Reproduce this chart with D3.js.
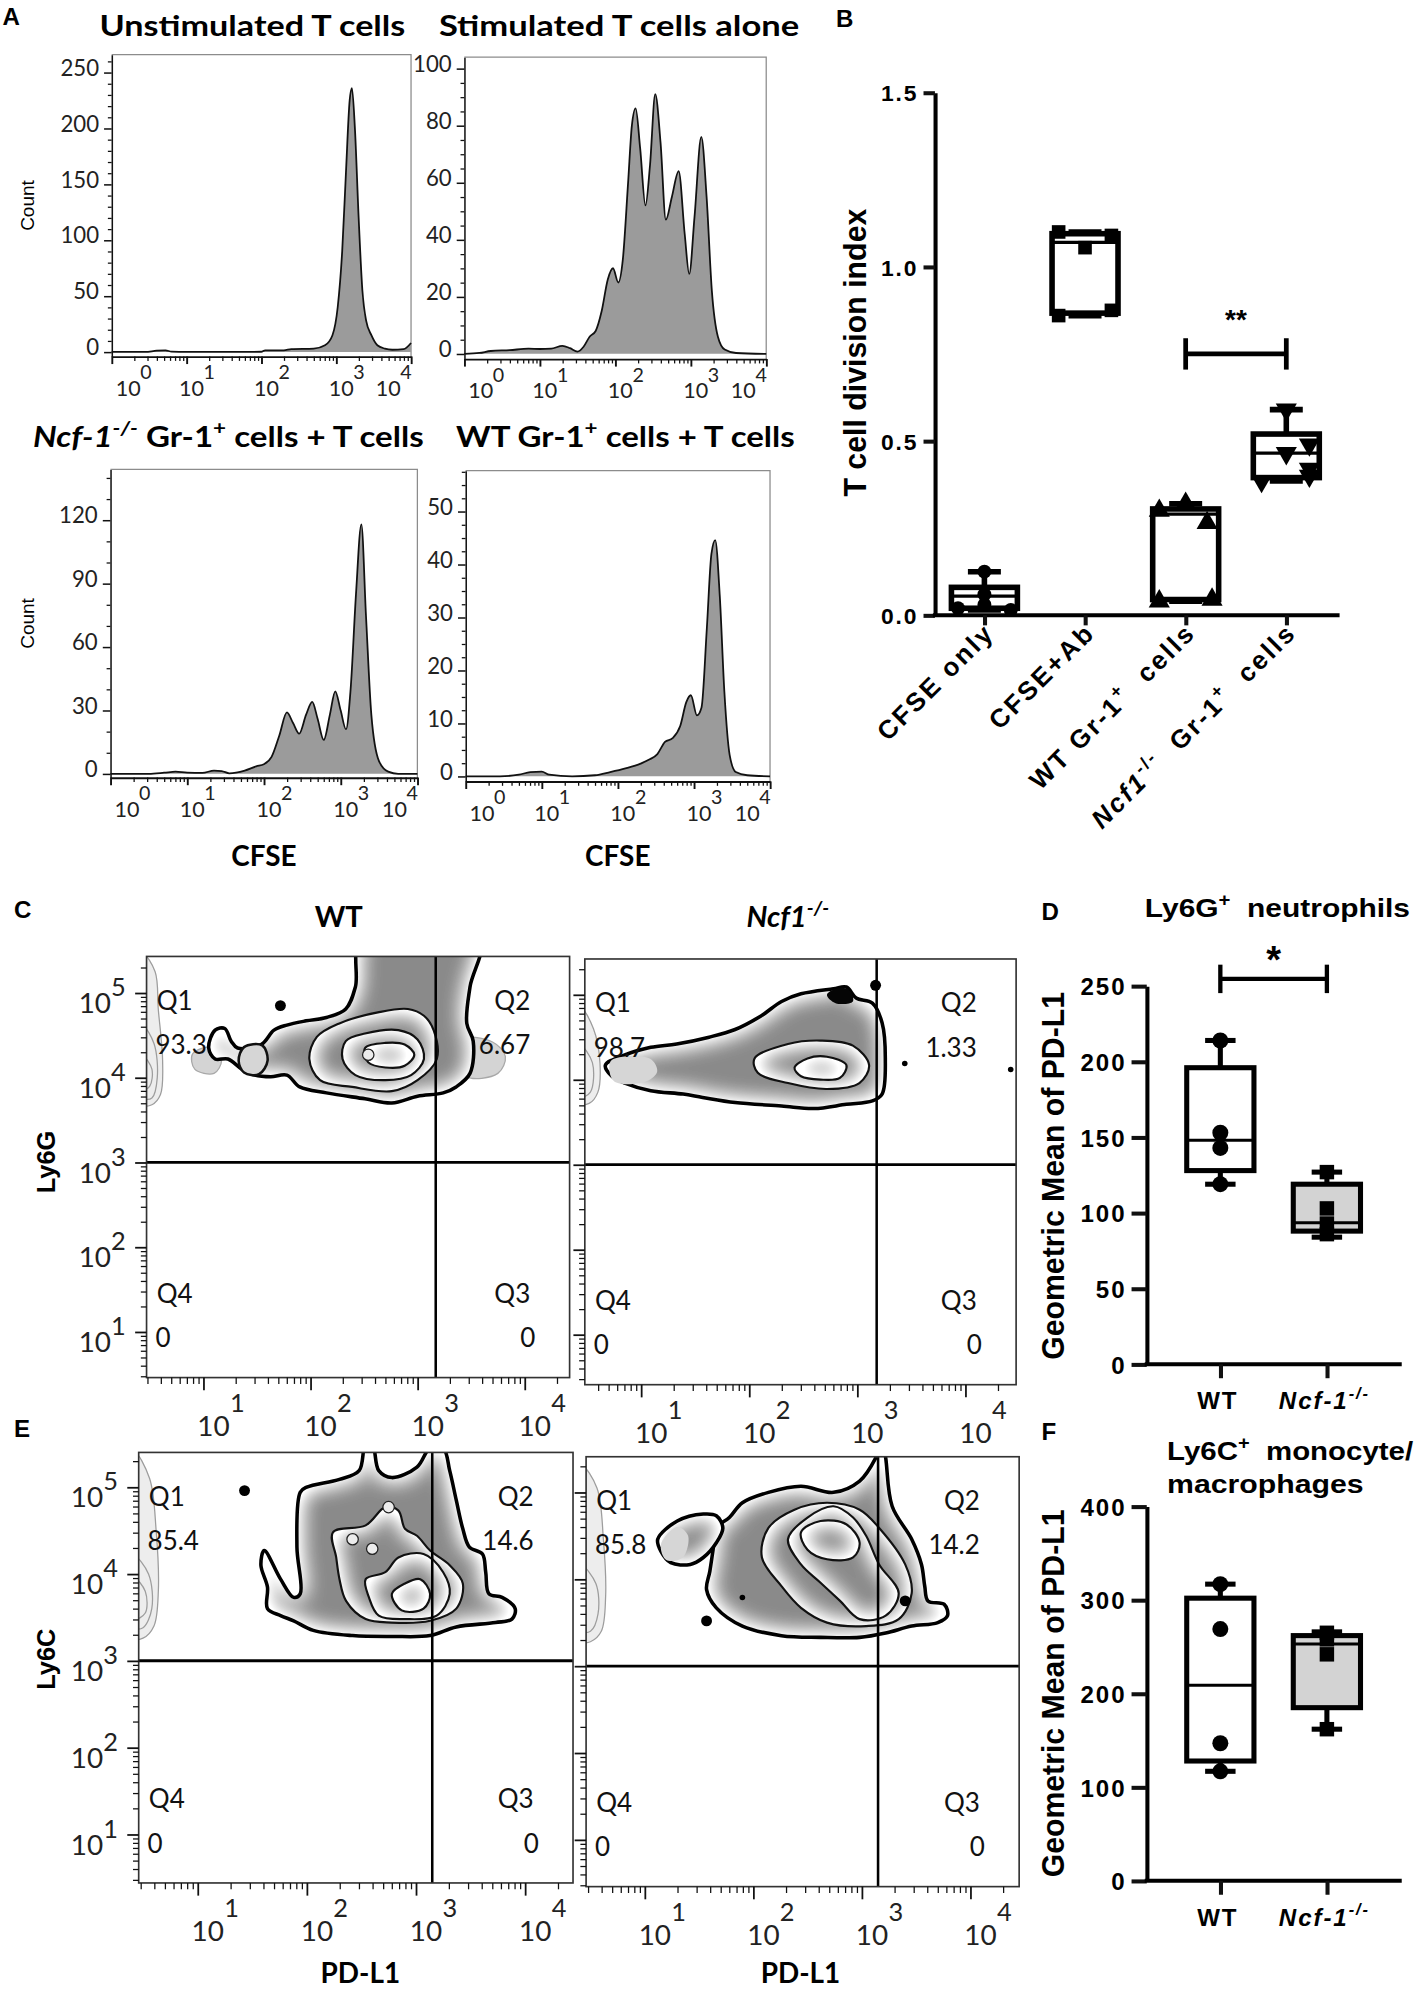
<!DOCTYPE html>
<html>
<head>
<meta charset="utf-8">
<title>CFSE proliferation and PD-L1 expression</title>
<script src="https://cdnjs.cloudflare.com/ajax/libs/d3/7.8.5/d3.min.js"></script>
<style>
  html, body { margin: 0; padding: 0; background: #fff; }
  svg { display: block; }
  text { white-space: pre; }
</style>
</head>
<body>
<svg id="figure"></svg>
<script>
// ---------- values ----------

// A: CFSE histograms, points are [log10 CFSE, count]
const unstimHist = [[0,0],[0.45,0],[0.6,1.2],[0.72,1.5],[0.8,0.3],[1.0,0],[1.5,0],[2.0,0.2],[2.05,1.5],[2.3,1.5],[2.4,2.5],[2.7,3],[2.85,6],[2.95,15],[3.02,40],[3.08,90],[3.13,160],[3.18,225],[3.21,236],[3.25,200],[3.3,120],[3.35,55],[3.4,28],[3.47,15],[3.55,6],[3.65,3],[3.75,2],[3.9,2.5],[4.0,8]];
const stimHist = [[0,0],[0.2,0.3],[0.35,1],[0.6,1.3],[0.85,1.8],[1.0,1.7],[1.15,1.8],[1.3,2.8],[1.4,2],[1.5,0.8],[1.58,2.5],[1.66,6],[1.74,8],[1.82,15],[1.9,26],[1.97,30],[2.04,25],[2.1,33],[2.17,60],[2.22,80],[2.27,86],[2.33,72],[2.4,52],[2.46,66],[2.53,91],[2.6,74],[2.67,47],[2.75,55],[2.84,64],[2.92,42],[2.98,28],[3.05,48],[3.14,76],[3.21,55],[3.28,22],[3.36,6],[3.45,1.5],[3.6,0.3],[4,0]];
const ncfHist = [[0,0],[0.5,0],[0.7,0.5],[0.85,1],[1.0,0.5],[1.2,0.4],[1.35,1.5],[1.45,1.3],[1.55,0.2],[1.75,1.5],[1.9,3.5],[2.0,4.5],[2.1,8],[2.2,18],[2.3,29],[2.38,24],[2.46,19],[2.55,28],[2.63,34],[2.7,26],[2.78,16],[2.86,28],[2.93,39],[3.0,30],[3.07,21],[3.13,40],[3.2,85],[3.27,118],[3.33,75],[3.4,28],[3.5,6],[3.62,1],[3.75,0],[4,0]];
const wtHist = [[0,0],[0.45,0],[0.7,0.3],[0.85,0.8],[1.0,0.9],[1.1,0.3],[1.4,0],[1.7,0.2],[1.9,0.8],[2.1,1.5],[2.3,2.4],[2.42,3.2],[2.52,4.2],[2.62,6.5],[2.72,7.2],[2.82,9.5],[2.9,14],[2.96,15.3],[3.04,11.5],[3.1,13],[3.17,28],[3.23,42],[3.28,44.6],[3.34,34],[3.4,16],[3.47,4],[3.55,0.8],[3.7,0.2],[4,0]];
const histDecades = [0, 1, 2, 3, 4];
const unstimTicks = [0, 50, 100, 150, 200, 250];
const stimTicks = [0, 20, 40, 60, 80, 100];
const ncfTicks = [0, 30, 60, 90, 120];
const wtTicks = [0, 10, 20, 30, 40, 50];
const histTitles = [
  [{t: 'Unstimulated T cells'}],
  [{t: 'Stimulated T cells alone'}],
  [{t: 'Ncf-1', i: 1}, {t: '-/-', i: 1, sup: 1}, {t: ' Gr-1'}, {t: '+', sup: 1}, {t: ' cells + T cells'}],
  [{t: 'WT Gr-1'}, {t: '+', sup: 1}, {t: ' cells + T cells'}]
];

// B: T cell division index
const bCats = ['CFSE only', 'CFSE+Ab', 'WT Gr-1+ cells', 'Ncf1-/- Gr-1+ cells'];
const bCatLabels = [
  [{t: 'CFSE only'}],
  [{t: 'CFSE+Ab'}],
  [{t: 'WT Gr-1'}, {t: '+', sup: 1}, {t: '  cells'}],
  [{t: 'Ncf1', i: 1}, {t: '-/-', sup: 1}, {t: '  Gr-1'}, {t: '+', sup: 1}, {t: '  cells'}]
];
const bStats = [[0.015, 0.02, 0.055, 0.08, 0.125], [0.86, 0.867, 1.07, 1.095, 1.10], [0.04, 0.045, 0.29, 0.305, 0.32], [0.385, 0.395, 0.465, 0.52, 0.59]];
const bPoints = [[0.125, 0.06, 0.03, 0.02, 0.015], [1.10, 1.09, 1.055, 0.875, 0.86], [0.32, 0.30, 0.265, 0.045, 0.04], [0.59, 0.49, 0.465, 0.42, 0.40, 0.385]];
const bJitter = [[0, 0, 0, -0.8, 0.8], [-0.8, 0.8, 0, 0.8, -0.8], [0, -0.8, 0.65, 0.8, -0.8], [0, 0.7, 0, 0.7, 0.7, -0.75]];
const bSymbols = ['circle', 'square', 'up', 'down'];
const bTicks = [0, 0.5, 1.0, 1.5];
const bSig = {a: 2, b: 3, value: 0.75, cap: 0.045, label: '**', labelValue: 0.867};

// D and F: geometric mean of PD-L1
const gmCats = ['WT', 'Ncf-1-/-'];
const gmCatLabels = [[{t: 'WT'}], [{t: 'Ncf-1', i: 1}, {t: '-/-', i: 1, sup: 1}]];
const dStats = [[119, 128, 148, 196, 214], [84, 88, 93.5, 119, 127]];
const dPoints = [[214, 153, 143, 119], [127, 103, 93, 86]];
const dTicks = [0, 50, 100, 150, 200, 250];
const dSig = {a: 0, b: 1, value: 254.7, cap: 9.4, label: '*', labelValue: 273};
const fStats = [[117, 128, 209, 302, 317], [162, 185, 253, 262, 266]];
const fPoints = [[317, 269, 147, 117], [265, 258, 242, 162]];
const fTicks = [0, 100, 200, 300, 400];
const gmSymbols = ['circle', 'square'];

// C and E: contour plots, points are [log10 PD-L1, log10 Ly6G / Ly6C]
const quadValues = [['93.3', '6.67', '0', '0'], ['98.7', '1.33', '0', '0'], ['85.4', '14.6', '0', '0'], ['85.8', '14.2', '0', '0']];
const gates = [[3.17, 3.0], [3.18, 3.0], [3.15, 3.0], [3.15, 3.0]];
const flowDecadesX = [1, 2, 3, 4];
const flowDecadesY = [1, 2, 3, 4, 5];

const cWtOuter = [[[1.11,4.56],[1.20,4.58],[1.26,4.43],[1.32,4.35],[1.54,4.39],[1.66,4.56],[1.78,4.62],[1.96,4.67],[2.15,4.71],[2.33,4.81],[2.42,5.07],[2.48,5.65],[3.58,5.65],[3.49,5.07],[3.46,4.64],[3.52,4.43],[3.49,4.05],[3.36,3.89],[3.24,3.82],[3.00,3.78],[2.76,3.70],[2.51,3.75],[2.15,3.82],[1.90,3.89],[1.78,4.03],[1.63,4.01],[1.48,4.03],[1.36,4.10],[1.23,4.22],[1.11,4.22],[1.05,4.35]]];
const cWtRings = [
  [[2.06,4.48],[2.27,4.64],[2.63,4.77],[2.91,4.81],[3.06,4.73],[3.15,4.56],[3.18,4.22],[3.00,3.97],[2.76,3.84],[2.39,3.89],[2.09,3.97],[1.99,4.22]],
  [[2.33,4.43],[2.51,4.52],[2.82,4.56],[3.00,4.45],[3.06,4.22],[2.94,4.03],[2.70,3.97],[2.42,4.03],[2.30,4.22]],
  [[2.51,4.35],[2.70,4.41],[2.88,4.39],[2.97,4.27],[2.88,4.14],[2.70,4.12],[2.54,4.18]]
];
const cWtLightUnder = [[[3.40,4.45],[3.70,4.42],[3.82,4.25],[3.75,4.05],[3.45,4.02]], [[0.90,4.28],[1.10,4.36],[1.17,4.20],[1.10,4.05],[0.92,4.10]]];
const cWtLightOver = [[[1.38,4.36],[1.55,4.38],[1.60,4.20],[1.52,4.04],[1.38,4.06],[1.33,4.20]]];
const cWtDots = [[1.72,4.85]];
const cWtSpots = [[2.54,4.27]];
const cWtEdge = [
  [[0.44,5.45],[0.55,5.25],[0.58,4.80],[0.62,4.20],[0.60,3.80],[0.52,3.68],[0.44,3.68]],
  [[0.44,4.60],[0.54,4.40],[0.57,4.00],[0.52,3.76],[0.44,3.76]],
  [[0.44,4.25],[0.52,4.10],[0.50,3.90],[0.44,3.86]]
];

const cNcfOuter = [[[0.67,4.17],[0.85,4.29],[1.09,4.38],[1.33,4.42],[1.63,4.50],[1.87,4.59],[2.11,4.75],[2.30,4.92],[2.48,5.01],[2.78,5.07],[2.90,5.09],[2.99,4.96],[3.14,4.90],[3.23,4.67],[3.26,4.25],[3.23,3.83],[3.14,3.75],[2.90,3.71],[2.60,3.66],[2.30,3.69],[1.87,3.73],[1.57,3.79],[1.39,3.83],[1.09,3.87],[0.85,3.96],[0.73,4.04]]];
const cNcfRings = [
  [[2.05,4.25],[2.36,4.42],[2.66,4.46],[2.96,4.40],[3.11,4.17],[3.02,3.96],[2.72,3.89],[2.36,3.96],[2.08,4.08]],
  [[2.42,4.14],[2.54,4.25],[2.72,4.27],[2.90,4.17],[2.84,4.02],[2.66,4.00],[2.48,4.04]]
];
const cNcfLightOver = [[[0.72,4.22],[1.08,4.25],[1.15,4.10],[1.05,3.98],[0.75,3.98]]];
const cNcfDark = [[[2.72,5.00],[2.84,5.08],[2.93,5.05],[2.96,4.92],[2.80,4.90]]];
const cNcfDots = [[3.17,5.11]];
const cNcfSmallDots = [[3.44,4.19],[4.42,4.12]];
const cNcfEdge = [
  [[0.44,4.85],[0.56,4.60],[0.62,4.20],[0.60,3.85],[0.52,3.72],[0.44,3.72]],
  [[0.44,4.40],[0.55,4.20],[0.53,3.85],[0.44,3.80]]
];

const eWtOuter = [[[1.94,4.94],[2.00,5.00],[2.30,5.09],[2.48,5.19],[2.54,5.50],[2.60,5.50],[2.66,5.19],[2.78,5.11],[3.01,5.23],[3.13,5.45],[3.25,5.45],[3.31,5.19],[3.37,4.85],[3.43,4.52],[3.49,4.31],[3.61,4.23],[3.64,4.02],[3.67,3.77],[3.79,3.73],[3.91,3.60],[3.88,3.48],[3.73,3.44],[3.37,3.39],[3.13,3.29],[2.78,3.28],[2.42,3.29],[2.06,3.35],[1.88,3.46],[1.76,3.52],[1.64,3.60],[1.64,3.85],[1.58,4.10],[1.61,4.27],[1.76,3.94],[1.88,3.73],[1.94,3.77],[1.91,4.31]]];
const eWtRings = [
  [[2.27,4.19],[2.24,4.48],[2.54,4.56],[2.72,4.77],[2.84,4.73],[2.90,4.52],[3.01,4.44],[3.13,4.27],[3.31,4.10],[3.43,3.89],[3.37,3.60],[3.13,3.46],[2.78,3.44],[2.54,3.48],[2.36,3.69],[2.30,3.94]],
  [[2.54,3.94],[2.72,4.02],[2.84,4.19],[3.07,4.23],[3.25,4.02],[3.31,3.77],[3.19,3.52],[2.90,3.48],[2.66,3.52],[2.57,3.73]],
  [[2.78,3.77],[2.90,3.89],[3.04,3.94],[3.13,3.77],[3.07,3.60],[2.87,3.58]]
];
const eWtSpots = [[2.42,4.40],[2.60,4.29],[2.75,4.77]];
const eWtDots = [[1.43,4.96]];
const eWtEdge = [
  [[0.42,5.40],[0.56,5.10],[0.62,4.50],[0.64,3.80],[0.60,3.40],[0.50,3.26],[0.42,3.26]],
  [[0.42,4.20],[0.55,4.00],[0.58,3.60],[0.50,3.38],[0.42,3.38]],
  [[0.42,3.95],[0.52,3.80],[0.52,3.55],[0.42,3.48]]
];

const eNcfOuter = [
  [[1.60,4.09],[1.63,4.34],[1.66,4.59],[1.78,4.71],[1.90,4.88],[2.14,5.00],[2.44,5.07],[2.74,5.00],[2.98,5.13],[3.13,5.40],[3.19,5.60],[3.22,5.40],[3.28,4.84],[3.46,4.46],[3.55,4.17],[3.58,3.92],[3.61,3.75],[3.76,3.71],[3.79,3.58],[3.70,3.50],[3.46,3.46],[3.22,3.38],[2.98,3.33],[2.62,3.33],[2.26,3.35],[1.90,3.46],[1.66,3.67],[1.57,3.88]],
  [[1.12,4.46],[1.30,4.67],[1.54,4.75],[1.66,4.73],[1.72,4.59],[1.66,4.42],[1.54,4.25],[1.42,4.17],[1.24,4.19],[1.15,4.32]]
];
const eNcfRings = [
  [[2.08,4.25],[2.14,4.59],[2.38,4.80],[2.68,4.88],[2.98,4.80],[3.16,4.59],[3.40,4.17],[3.46,3.84],[3.34,3.54],[3.04,3.46],[2.68,3.50],[2.44,3.67],[2.26,3.92]],
  [[2.32,4.46],[2.50,4.71],[2.74,4.84],[2.92,4.71],[3.04,4.50],[3.16,4.17],[3.34,3.84],[3.22,3.58],[2.98,3.54],[2.80,3.75],[2.62,3.96],[2.44,4.17]],
  [[2.44,4.54],[2.62,4.67],[2.86,4.63],[2.98,4.42],[2.92,4.25],[2.68,4.23],[2.50,4.34]]
];
const eNcfLightOver = [[[1.15,4.40],[1.30,4.60],[1.40,4.50],[1.35,4.25],[1.20,4.22]]];
const eNcfDots = [[1.57,3.52],[3.40,3.75]];
const eNcfSmallDots = [[1.90,3.79]];
const eNcfEdge = [
  [[0.42,5.30],[0.56,5.05],[0.62,4.45],[0.64,3.80],[0.60,3.40],[0.50,3.28],[0.42,3.28]],
  [[0.42,4.15],[0.55,3.95],[0.57,3.60],[0.50,3.40],[0.42,3.40]]
];

// ---------- drawing ----------
const W = 1117, H = 1568;
const CAL = "Lato, 'Open Sans', sans-serif";
const ARI = "'Liberation Sans', Arial, sans-serif";

const svg = d3.select('#figure').attr('width', 1417).attr('height', 1989).attr('viewBox', `0 0 ${W} ${H}`);
svg.append('rect').attr('width', W).attr('height', H).attr('fill', '#fff');
const defs = svg.append('defs');

// zebra shading: each contour band is light just inside its line and darkens inward
const zf = defs.append('filter').attr('id', 'zebra').attr('x', '-5%').attr('y', '-5%').attr('width', '110%').attr('height', '110%');
zf.append('feGaussianBlur').attr('in', 'SourceAlpha').attr('stdDeviation', 9).attr('result', 'blur');
zf.append('feComponentTransfer').attr('in', 'blur').attr('result', 'inv')
  .append('feFuncA').attr('type', 'linear').attr('slope', -1.5).attr('intercept', 1.7);
zf.append('feFlood').attr('flood-color', '#ffffff').attr('result', 'white');
zf.append('feComposite').attr('in', 'white').attr('in2', 'inv').attr('operator', 'in').attr('result', 'glow');
zf.append('feComposite').attr('in', 'glow').attr('in2', 'SourceAlpha').attr('operator', 'in').attr('result', 'glowIn');
const zm = zf.append('feMerge');
zm.append('feMergeNode').attr('in', 'SourceGraphic');
zm.append('feMergeNode').attr('in', 'glowIn');

// text with italic / superscript pieces
function rich(sel, parts, size) {
  let up = false;
  parts.forEach(p => {
    const ts = sel.append('tspan').text(p.t);
    if (p.i) ts.attr('font-style', 'italic');
    if (p.sup) {
      ts.attr('font-size', size * 0.68);
      if (!up) { ts.attr('dy', -size * 0.42); up = true; }
    } else if (up) { ts.attr('dy', size * 0.42); up = false; }
  });
  return sel;
}

function minorDecades(lo, hi) {
  const v = [];
  for (let d = Math.floor(lo); d < Math.ceil(hi); d++)
    for (let k = 2; k < 10; k++) { const t = d + Math.log10(k); if (t > lo && t < hi) v.push(t); }
  return v;
}

function styleAxis(a, w) {
  a.selectAll('line').attr('stroke', '#111').attr('stroke-width', w);
  a.select('.domain').attr('stroke', '#111').attr('stroke-width', w);
}

// panel letters
[['A', 2, 20], ['B', 659, 21], ['C', 11, 724], ['D', 821, 725], ['E', 11, 1133], ['F', 821, 1135]].forEach(([t, x, y]) => {
  svg.append('text').attr('x', x).attr('y', y).text(t).attr('font-family', ARI).attr('font-weight', 'bold').attr('font-size', 19);
});

// ----- A: histograms -----
const histPanels = [
  {data: unstimHist, ticks: unstimTicks, left: 88, right: 324, top: 43, bottom: 281, yDomain: [-4, 266], minor: 10, titleX: 199, titleY: 28, titleLen: 241, count: true, cfse: false},
  {data: stimHist, ticks: stimTicks, left: 366, right: 604, top: 45, bottom: 283, yDomain: [-1.8, 104], minor: 5, titleX: 488, titleY: 28, titleLen: 284, count: false, cfse: false},
  {data: ncfHist, ticks: ncfTicks, left: 87, right: 329, top: 370, bottom: 613, yDomain: [-1.8, 144], minor: 10, titleX: 180, titleY: 352, titleLen: 308, count: true, cfse: true},
  {data: wtHist, ticks: wtTicks, left: 367, right: 607, top: 371, bottom: 616, yDomain: [-0.96, 57.7], minor: 2.5, titleX: 493, titleY: 352, titleLen: 267, count: false, cfse: true}
];

histPanels.forEach((p, i) => {
  const g = svg.append('g');
  const x = d3.scaleLinear().domain([0, 4]).range([p.left, p.right]);
  const y = d3.scaleLinear().domain(p.yDomain).range([p.bottom, p.top]);

  g.append('path').attr('d', `M${p.left},${p.top}H${p.right}V${p.bottom}`)
    .attr('fill', 'none').attr('stroke', '#8c8c8c').attr('stroke-width', 1);

  const area = d3.area().x(d => x(d[0])).y0(y(0)).y1(d => y(d[1])).curve(d3.curveMonotoneX);
  const line = d3.line().x(d => x(d[0])).y(d => y(d[1])).curve(d3.curveMonotoneX);
  g.append('path').attr('d', area(p.data)).attr('fill', '#9b9b9b');
  g.append('path').attr('d', line(p.data)).attr('fill', 'none').attr('stroke', '#111').attr('stroke-width', 1.4);

  // y axis
  const ya = g.append('g').attr('transform', `translate(${p.left},0)`)
    .call(d3.axisLeft(y).tickValues(p.ticks).tickSize(6).tickPadding(4).tickSizeOuter(0).tickFormat(d3.format('d')));
  styleAxis(ya, 1.2);
  ya.selectAll('text').attr('font-family', CAL).attr('font-size', 17.5).attr('fill', '#222').attr('dy', '0.12em');
  const minorY = d3.range(0, p.yDomain[1], p.minor).filter(v => !p.ticks.includes(v));
  const ym = g.append('g').attr('transform', `translate(${p.left},0)`)
    .call(d3.axisLeft(y).tickValues(minorY).tickSize(3).tickFormat(''));
  ym.select('.domain').remove();
  styleAxis(ym, 1);

  // x axis, log decades
  const xa = g.append('g').attr('transform', `translate(0,${p.bottom})`)
    .call(d3.axisBottom(x).tickValues(histDecades).tickSize(6).tickSizeOuter(0).tickFormat(''));
  styleAxis(xa, 1.5);
  const xm = g.append('g').attr('transform', `translate(0,${p.bottom})`)
    .call(d3.axisBottom(x).tickValues(minorDecades(0, 4)).tickSize(3.5).tickFormat(''));
  xm.select('.domain').remove();
  styleAxis(xm, 1);
  histDecades.forEach((d, k) => {
    const off = k === 0 ? 13 : (k === histDecades.length - 1 ? -18 : 4);
    const cx = x(d) + off;
    g.append('text').attr('x', cx).attr('y', p.bottom + 31).attr('text-anchor', 'middle')
      .attr('font-family', CAL).attr('font-size', 17).attr('fill', '#222').text('10');
    g.append('text').attr('x', cx + 9.5).attr('y', p.bottom + 18)
      .attr('font-family', CAL).attr('font-size', 15.5).attr('fill', '#222').text(d);
  });

  const title = g.append('text').attr('x', p.titleX).attr('y', p.titleY).attr('text-anchor', 'middle')
    .attr('font-family', CAL).attr('font-weight', 'bold').attr('font-size', 22)
    .attr('textLength', p.titleLen).attr('lengthAdjust', 'spacingAndGlyphs');
  rich(title, histTitles[i], 22);

  if (p.count) {
    const cy = (p.top + p.bottom) / 2;
    g.append('text').attr('transform', `translate(27,${cy}) rotate(-90)`).attr('text-anchor', 'middle')
      .attr('font-family', ARI).attr('font-size', 15).text('Count');
  }
  if (p.cfse) {
    g.append('text').attr('x', (p.left + p.right) / 2).attr('y', 683).attr('text-anchor', 'middle')
      .attr('font-family', CAL).attr('font-weight', 'bold').attr('font-size', 22).text('CFSE');
  }
});

// ----- box plots (B, D, F) -----
function symbolPath(kind, size) {
  const t = {circle: d3.symbolCircle, square: d3.symbolSquare, up: d3.symbolTriangle, down: d3.symbolTriangle}[kind];
  return d3.symbol().type(t).size(size)();
}

function drawBoxPanel(p) {
  const g = svg.append('g');
  const x = d3.scalePoint().domain(p.cats).range(p.xRange);
  const y = d3.scaleLinear().domain(p.yDomain).range([p.bottom, p.top]);

  // axes
  const ya = g.append('g').attr('transform', `translate(${p.axisX},0)`)
    .call(d3.axisLeft(y).tickValues(p.ticks).tickSize(p.tickLen).tickPadding(4).tickSizeOuter(0).tickFormat(p.fmt));
  styleAxis(ya, p.axisW);
  ya.select('.domain').attr('stroke', '#000');
  ya.selectAll('text').attr('font-family', ARI).attr('font-weight', 'bold').attr('font-size', p.tickFont)
    .attr('letter-spacing', 1.5).attr('fill', '#000').attr('dy', '0.36em');
  g.append('line').attr('x1', p.axisX - p.axisW / 2).attr('x2', p.xEnd).attr('y1', y(0)).attr('y2', y(0))
    .attr('stroke', '#000').attr('stroke-width', p.axisW);
  const xa = g.append('g').attr('transform', `translate(0,${y(0)})`)
    .call(d3.axisBottom(x).tickSize(p.tickLen - 1).tickSizeOuter(0).tickFormat(''));
  xa.select('.domain').remove();
  styleAxis(xa, p.axisW);

  // boxes and whiskers
  p.stats.forEach((s, i) => {
    const cx = x(p.cats[i]);
    const [mn, q1, md, q3, mx] = s;
    const bg = g.append('g').attr('stroke', '#000').attr('stroke-width', p.lw).attr('fill', 'none');
    bg.append('line').attr('x1', cx).attr('x2', cx).attr('y1', y(mn)).attr('y2', y(q1));
    bg.append('line').attr('x1', cx).attr('x2', cx).attr('y1', y(q3)).attr('y2', y(mx));
    [mn, mx].forEach(v => bg.append('line').attr('x1', cx - p.cap).attr('x2', cx + p.cap).attr('y1', y(v)).attr('y2', y(v)));
    bg.append('rect').attr('x', cx - p.half).attr('y', y(q3)).attr('width', 2 * p.half)
      .attr('height', Math.max(0.5, y(q1) - y(q3))).attr('fill', p.fills[i]);
    bg.append('line').attr('x1', cx - p.half).attr('x2', cx + p.half).attr('y1', y(md)).attr('y2', y(md))
      .attr('stroke-width', p.medW);
  });

  // points
  p.points.forEach((vals, i) => {
    const cx = x(p.cats[i]);
    vals.forEach((v, k) => {
      const jx = p.jitter ? p.jitter[i][k] * p.half : 0;
      const rot = p.symbols[i] === 'down' ? ' rotate(180)' : '';
      g.append('path').attr('d', symbolPath(p.symbols[i], p.symSize[p.symbols[i]]))
        .attr('transform', `translate(${cx + jx},${y(v)})${rot}`).attr('fill', '#000');
    });
  });

  // significance
  if (p.sig) {
    const xa1 = x(p.cats[p.sig.a]), xb1 = x(p.cats[p.sig.b]);
    const sg = g.append('g').attr('stroke', '#000').attr('stroke-width', p.lw * 0.85);
    sg.append('line').attr('x1', xa1).attr('x2', xb1).attr('y1', y(p.sig.value)).attr('y2', y(p.sig.value));
    [xa1, xb1].forEach(xx => sg.append('line').attr('x1', xx).attr('x2', xx)
      .attr('y1', y(p.sig.value + p.sig.cap)).attr('y2', y(p.sig.value - p.sig.cap)));
    g.append('text').attr('x', (xa1 + xb1) / 2).attr('y', y(p.sig.labelValue) + p.sigFont * 0.58)
      .attr('text-anchor', 'middle').attr('font-family', ARI).attr('font-weight', 'bold')
      .attr('font-size', p.sigFont).text(p.sig.label);
  }

  // category labels
  p.catLabels.forEach((parts, i) => {
    const cx = x(p.cats[i]);
    let t;
    if (p.rotate) {
      t = g.append('text').attr('transform', `translate(${cx + 9},${y(0) + 15}) rotate(-45)`).attr('text-anchor', 'end');
    } else {
      t = g.append('text').attr('x', cx - 2).attr('y', p.catY).attr('text-anchor', 'middle');
    }
    t.attr('font-family', ARI).attr('font-weight', 'bold').attr('font-size', p.catFont).attr('letter-spacing', p.catSpacing);
    rich(t, parts, p.catFont);
  });

  // y axis title
  g.append('text').attr('transform', `translate(${p.yLabelX},${p.yLabelY}) rotate(-90)`).attr('text-anchor', 'middle')
    .attr('font-family', ARI).attr('font-weight', 'bold').attr('font-size', p.yLabelFont)
    .attr('textLength', p.yLabelLen).attr('lengthAdjust', 'spacingAndGlyphs').text(p.yLabel);
}

drawBoxPanel({
  cats: bCats, catLabels: bCatLabels, stats: bStats, points: bPoints, jitter: bJitter, symbols: bSymbols,
  fills: ['#fff', '#fff', '#fff', '#fff'], ticks: bTicks, fmt: d3.format('.1f'), yDomain: [0, 1.5],
  axisX: 737, top: 73, bottom: 485, xRange: [776, 1014], xEnd: 1056, half: 26, cap: 13,
  lw: 4.4, medW: 2.6, axisW: 3.2, tickLen: 9, tickFont: 18, catFont: 20.5, catSpacing: 2, rotate: true,
  symSize: {circle: 95, square: 115, up: 120, down: 120},
  sig: bSig, sigFont: 22,
  yLabel: 'T cell division index', yLabelX: 683, yLabelY: 278, yLabelFont: 24, yLabelLen: 227
});

drawBoxPanel({
  cats: gmCats, catLabels: gmCatLabels, stats: dStats, points: dPoints, symbols: gmSymbols,
  fills: ['#fff', '#d3d3d3'], ticks: dTicks, fmt: d3.format('d'), yDomain: [0, 250],
  axisX: 904, top: 777.3, bottom: 1075.5, xRange: [962, 1046], xEnd: 1105, half: 26.5, cap: 12,
  lw: 4, medW: 2.4, axisW: 3.2, tickLen: 12, tickFont: 19, catFont: 19, catSpacing: 1.5, rotate: false, catY: 1111,
  symSize: {circle: 125, square: 130},
  sig: dSig, sigFont: 30,
  yLabel: 'Geometric Mean of PD-L1', yLabelX: 839, yLabelY: 927, yLabelFont: 25, yLabelLen: 290
});

drawBoxPanel({
  cats: gmCats, catLabels: gmCatLabels, stats: fStats, points: fPoints, symbols: gmSymbols,
  fills: ['#fff', '#d3d3d3'], ticks: fTicks, fmt: d3.format('d'), yDomain: [0, 400],
  axisX: 904, top: 1187.6, bottom: 1482.7, xRange: [962, 1046], xEnd: 1105, half: 26.5, cap: 12,
  lw: 4, medW: 2.4, axisW: 3.2, tickLen: 12, tickFont: 19, catFont: 19, catSpacing: 1.5, rotate: false, catY: 1518,
  symSize: {circle: 125, square: 130},
  sig: null,
  yLabel: 'Geometric Mean of PD-L1', yLabelX: 839, yLabelY: 1335, yLabelFont: 25, yLabelLen: 290
});

// D and F titles
const dTitle = svg.append('text').attr('x', 1007).attr('y', 723).attr('text-anchor', 'middle')
  .attr('font-family', ARI).attr('font-weight', 'bold').attr('font-size', 21)
  .attr('textLength', 209).attr('lengthAdjust', 'spacingAndGlyphs');
rich(dTitle, [{t: 'Ly6G'}, {t: '+', sup: 1}, {t: '  neutrophils'}], 21);
const fTitle = svg.append('text').attr('x', 920).attr('y', 1151)
  .attr('font-family', ARI).attr('font-weight', 'bold').attr('font-size', 21)
  .attr('textLength', 194).attr('lengthAdjust', 'spacingAndGlyphs');
rich(fTitle, [{t: 'Ly6C'}, {t: '+', sup: 1}, {t: '  monocyte/'}], 21);
svg.append('text').attr('x', 920).attr('y', 1177)
  .attr('font-family', ARI).attr('font-weight', 'bold').attr('font-size', 21)
  .attr('textLength', 155).attr('lengthAdjust', 'spacingAndGlyphs').text('macrophages');

// ----- C and E: contour plots -----
const dotPanels = [
  {left: 115.5, right: 449, top: 754, bottom: 1086, xDomain: [0.47, 4.42], yDomain: [0.46, 5.43], yLabels: true, lightStroke: '#111',
   shapes: {edge: cWtEdge, lightUnder: cWtLightUnder, outer: cWtOuter, lightOver: cWtLightOver, dark: [], rings: cWtRings, spots: cWtSpots, dots: cWtDots, smallDots: []}},
  {left: 461, right: 801, top: 756, bottom: 1091.6, xDomain: [0.48, 4.47], yDomain: [0.41, 5.42], yLabels: false, lightStroke: 'none',
   shapes: {edge: cNcfEdge, lightUnder: [], outer: cNcfOuter, lightOver: cNcfLightOver, dark: cNcfDark, rings: cNcfRings, spots: [], dots: cNcfDots, smallDots: cNcfSmallDots}},
  {left: 109.3, right: 451.7, top: 1145, bottom: 1484.4, xDomain: [0.46, 4.44], yDomain: [0.44, 5.40], yLabels: true, lightStroke: 'none',
   shapes: {edge: eWtEdge, lightUnder: [], outer: eWtOuter, lightOver: [], dark: [], rings: eWtRings, spots: eWtSpots, dots: eWtDots, smallDots: []}},
  {left: 462, right: 803.4, top: 1148.4, bottom: 1487.3, xDomain: [0.46, 4.45], yDomain: [0.46, 5.41], yLabels: false, lightStroke: 'none',
   shapes: {edge: eNcfEdge, lightUnder: [], outer: eNcfOuter, lightOver: eNcfLightOver, dark: [], rings: eNcfRings, spots: [], dots: eNcfDots, smallDots: eNcfSmallDots}}
];

dotPanels.forEach((p, i) => {
  const g = svg.append('g');
  const x = d3.scaleLinear().domain(p.xDomain).range([p.left, p.right]);
  const y = d3.scaleLinear().domain(p.yDomain).range([p.bottom, p.top]);
  const cid = 'dotclip' + i;
  defs.append('clipPath').attr('id', cid).append('rect')
    .attr('x', p.left).attr('y', p.top).attr('width', p.right - p.left).attr('height', p.bottom - p.top);
  const body = g.append('g').attr('clip-path', `url(#${cid})`);
  const closed = d3.line().x(d => x(d[0])).y(d => y(d[1])).curve(d3.curveCatmullRomClosed.alpha(0.5));
  const s = p.shapes;
  const band = (poly, lineColor, lineW) => {
    body.append('path').attr('d', closed(poly)).attr('fill', '#4c4c4c').attr('filter', 'url(#zebra)');
    body.append('path').attr('d', closed(poly)).attr('fill', 'none').attr('stroke', lineColor).attr('stroke-width', lineW);
  };

  s.edge.forEach((poly, k) => body.append('path').attr('d', closed(poly))
    .attr('fill', k === 0 ? '#ededed' : 'none').attr('stroke', '#9d9d9d').attr('stroke-width', 1));
  s.lightUnder.forEach(poly => body.append('path').attr('d', closed(poly))
    .attr('fill', '#d4d4d4').attr('stroke', '#a8a8a8').attr('stroke-width', 1));
  s.outer.forEach(poly => band(poly, '#000', 2.8));
  s.lightOver.forEach(poly => body.append('path').attr('d', closed(poly)).attr('fill', '#d6d6d6')
    .attr('stroke', p.lightStroke).attr('stroke-width', 2));
  s.dark.forEach(poly => body.append('path').attr('d', closed(poly)).attr('fill', '#050505'));
  s.rings.forEach(poly => band(poly, '#111', 1.7));
  s.spots.forEach(d => body.append('circle').attr('cx', x(d[0])).attr('cy', y(d[1])).attr('r', 4.5)
    .attr('fill', '#ececec').attr('stroke', '#222').attr('stroke-width', 1));
  s.dots.forEach(d => body.append('circle').attr('cx', x(d[0])).attr('cy', y(d[1])).attr('r', 4.3).attr('fill', '#000'));
  s.smallDots.forEach(d => body.append('circle').attr('cx', x(d[0])).attr('cy', y(d[1])).attr('r', 2.2).attr('fill', '#000'));

  // quadrant gates
  const [gx, gy] = gates[i];
  g.append('line').attr('x1', x(gx)).attr('x2', x(gx)).attr('y1', p.top).attr('y2', p.bottom).attr('stroke', '#000').attr('stroke-width', 2);
  g.append('line').attr('x1', p.left).attr('x2', p.right).attr('y1', y(gy)).attr('y2', y(gy)).attr('stroke', '#000').attr('stroke-width', 2.2);

  g.append('rect').attr('x', p.left).attr('y', p.top).attr('width', p.right - p.left).attr('height', p.bottom - p.top)
    .attr('fill', 'none').attr('stroke', '#333').attr('stroke-width', 1.3);

  // axes
  const xa = g.append('g').attr('transform', `translate(0,${p.bottom})`)
    .call(d3.axisBottom(x).tickValues(flowDecadesX).tickSize(10).tickFormat(''));
  xa.select('.domain').remove();
  styleAxis(xa, 1.4);
  const xm = g.append('g').attr('transform', `translate(0,${p.bottom})`)
    .call(d3.axisBottom(x).tickValues(minorDecades(p.xDomain[0], p.xDomain[1])).tickSize(5).tickFormat(''));
  xm.select('.domain').remove();
  styleAxis(xm, 1);
  const ya = g.append('g').attr('transform', `translate(${p.left},0)`)
    .call(d3.axisLeft(y).tickValues(flowDecadesY).tickSize(9).tickFormat(''));
  ya.select('.domain').remove();
  styleAxis(ya, 1.4);
  const ym = g.append('g').attr('transform', `translate(${p.left},0)`)
    .call(d3.axisLeft(y).tickValues(minorDecades(p.yDomain[0], p.yDomain[1])).tickSize(4.5).tickFormat(''));
  ym.select('.domain').remove();
  styleAxis(ym, 1);

  flowDecadesX.forEach(d => {
    const cx = x(d) + 8;
    g.append('text').attr('x', cx).attr('y', p.bottom + 46).attr('text-anchor', 'middle')
      .attr('font-family', CAL).attr('font-size', 22).attr('fill', '#222').text('10');
    g.append('text').attr('x', cx + 13).attr('y', p.bottom + 27)
      .attr('font-family', CAL).attr('font-size', 20).attr('fill', '#222').text(d);
  });
  if (p.yLabels) {
    flowDecadesY.forEach(d => {
      g.append('text').attr('x', p.left - 28).attr('y', y(d) + 16).attr('text-anchor', 'end')
        .attr('font-family', CAL).attr('font-size', 22).attr('fill', '#222').text('10');
      g.append('text').attr('x', p.left - 28).attr('y', y(d) + 2.5)
        .attr('font-family', CAL).attr('font-size', 20).attr('fill', '#222').text(d);
    });
  }

  // quadrant names and percentages
  const q = quadValues[i];
  const qt = (tx, ty, str, anchor) => g.append('text').attr('x', tx).attr('y', ty).attr('text-anchor', anchor)
    .attr('font-family', CAL).attr('font-size', 20.5).attr('fill', '#111').text(str);
  qt(p.left + 8, p.top + 42, 'Q1', 'start');
  qt(p.left + 7, p.top + 77, q[0], 'start');
  qt(p.right - 31, p.top + 42, 'Q2', 'end');
  qt(p.right - 31, p.top + 77, q[1], 'end');
  qt(p.left + 8, p.bottom - 59, 'Q4', 'start');
  qt(p.left + 7, p.bottom - 24, q[2], 'start');
  qt(p.right - 31, p.bottom - 59, 'Q3', 'end');
  qt(p.right - 27, p.bottom - 24, q[3], 'end');
});

// C / E labels
svg.append('text').attr('x', 267).attr('y', 731).attr('text-anchor', 'middle')
  .attr('font-family', CAL).attr('font-weight', 'bold').attr('font-size', 23).text('WT');
const cTitleNcf = svg.append('text').attr('x', 621).attr('y', 731).attr('text-anchor', 'middle')
  .attr('font-family', CAL).attr('font-weight', 'bold').attr('font-size', 23);
rich(cTitleNcf, [{t: 'Ncf1', i: 1}, {t: '-/-', i: 1, sup: 1}], 23);
[['Ly6G', 916], ['Ly6C', 1308]].forEach(([t, cy]) => {
  svg.append('text').attr('transform', `translate(43,${cy}) rotate(-90)`).attr('text-anchor', 'middle')
    .attr('font-family', ARI).attr('font-weight', 'bold').attr('font-size', 20).text(t);
});
[284, 631].forEach(cx => {
  svg.append('text').attr('x', cx).attr('y', 1563).attr('text-anchor', 'middle')
    .attr('font-family', CAL).attr('font-weight', 'bold').attr('font-size', 22).text('PD-L1');
});
</script>
</body>
</html>
